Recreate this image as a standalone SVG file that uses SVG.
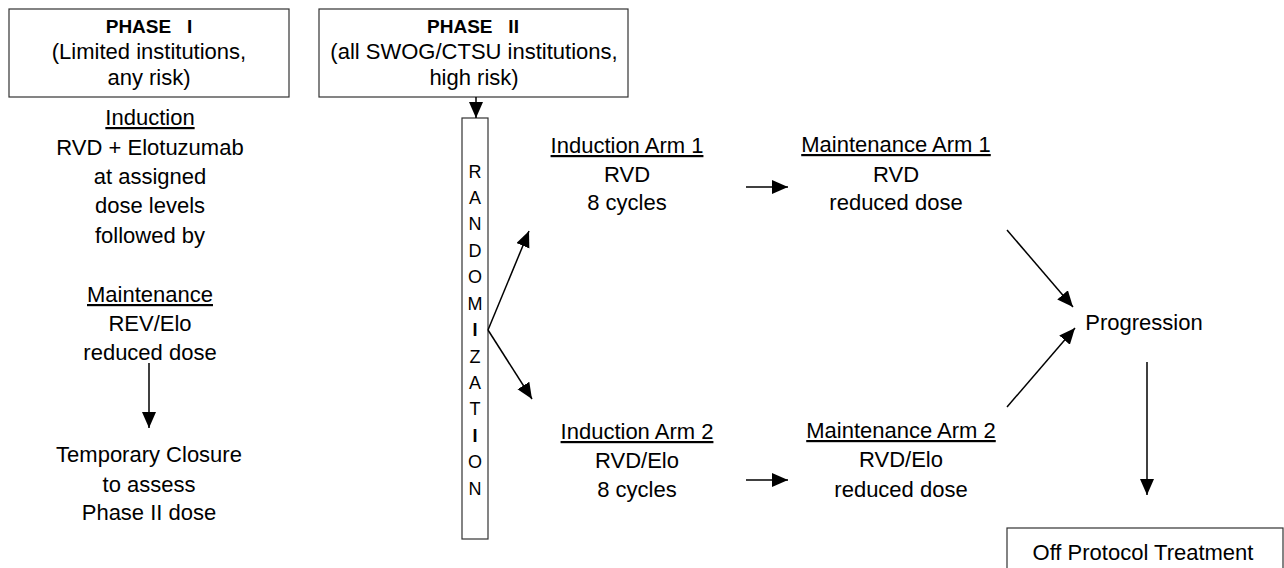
<svg xmlns="http://www.w3.org/2000/svg" width="1284" height="568" viewBox="0 0 1284 568">
  <style>
    .box { fill: #ffffff; stroke: #333333; stroke-width: 1.2; }
    .t { font-family: "Liberation Sans", Arial, sans-serif; font-size: 22px; fill: #000000; text-anchor: middle; }
    .b { font-weight: bold; font-size: 19px; }
    .u { text-decoration: underline; }
    .v { font-family: "Liberation Sans", Arial, sans-serif; font-size: 18px; fill: #000000; text-anchor: middle; }
    .c { stroke: #000000; stroke-width: 1.5; fill: none; marker-end: url(#head); }
  </style>
  <defs>
    <marker id="head" markerUnits="userSpaceOnUse" markerWidth="17" markerHeight="15" refX="16" refY="7" orient="auto" viewBox="0 0 17 15">
      <path d="M0,0 L16,7 L0,14 Z" fill="#000000"/>
    </marker>
  </defs>

  <rect width="1284" height="568" fill="#ffffff"/>

  <!-- Phase I header -->
  <g id="phase1">
    <rect class="box" x="9" y="9" width="280" height="88"/>
    <text class="t b" x="149" y="33" xml:space="preserve">PHASE   I</text>
    <text class="t" x="149" y="59">(Limited institutions,</text>
    <text class="t" x="149" y="85">any risk)</text>
  </g>

  <!-- Phase II header -->
  <g id="phase2">
    <rect class="box" x="319" y="9" width="309" height="88"/>
    <text class="t b" x="473" y="33" xml:space="preserve">PHASE   II</text>
    <text class="t" x="474" y="59">(all SWOG/CTSU institutions,</text>
    <text class="t" x="474" y="85">high risk)</text>
  </g>

  <!-- Phase I induction and maintenance -->
  <g id="phase1-regimen">
    <text class="t u" x="150" y="125">Induction</text>
    <text class="t" x="150" y="155">RVD + Elotuzumab</text>
    <text class="t" x="150" y="184">at assigned</text>
    <text class="t" x="150" y="213">dose levels</text>
    <text class="t" x="150" y="243">followed by</text>
    <text class="t u" x="150" y="302">Maintenance</text>
    <text class="t" x="150" y="331">REV/Elo</text>
    <text class="t" x="150" y="360">reduced dose</text>
  </g>

  <g id="temporary-closure">
    <text class="t" x="149" y="462">Temporary Closure</text>
    <text class="t" x="149" y="492">to assess</text>
    <text class="t" x="149" y="520">Phase II dose</text>
  </g>

  <!-- Vertical randomization bar -->
  <g id="randomization">
    <rect class="box" x="462" y="118" width="26" height="421"/>
    <text class="v" x="475" y="178">R</text>
    <text class="v" x="475" y="204">A</text>
    <text class="v" x="475" y="230">N</text>
    <text class="v" x="475" y="257">D</text>
    <text class="v" x="475" y="283">O</text>
    <text class="v" x="475" y="310">M</text>
    <text class="v" x="475" y="336" font-weight="bold">I</text>
    <text class="v" x="475" y="363">Z</text>
    <text class="v" x="475" y="389">A</text>
    <text class="v" x="475" y="415">T</text>
    <text class="v" x="475" y="442" font-weight="bold">I</text>
    <text class="v" x="475" y="468">O</text>
    <text class="v" x="475" y="495">N</text>
  </g>

  <g id="induction-arm1">
    <text class="t u" x="627" y="153">Induction Arm 1</text>
    <text class="t" x="627" y="182">RVD</text>
    <text class="t" x="627" y="210">8 cycles</text>
  </g>

  <g id="maintenance-arm1">
    <text class="t u" x="896" y="152">Maintenance Arm 1</text>
    <text class="t" x="896" y="182">RVD</text>
    <text class="t" x="896" y="210">reduced dose</text>
  </g>

  <g id="induction-arm2">
    <text class="t u" x="637" y="439">Induction Arm 2</text>
    <text class="t" x="637" y="468">RVD/Elo</text>
    <text class="t" x="637" y="497">8 cycles</text>
  </g>

  <g id="maintenance-arm2">
    <text class="t u" x="901" y="438">Maintenance Arm 2</text>
    <text class="t" x="901" y="467">RVD/Elo</text>
    <text class="t" x="901" y="497">reduced dose</text>
  </g>

  <g id="progression">
    <text class="t" x="1144" y="330">Progression</text>
  </g>

  <g id="off-protocol">
    <rect class="box" x="1007" y="528" width="276" height="60"/>
    <text class="t" x="1143" y="560" font-size="21">Off Protocol Treatment</text>
  </g>

  <!-- Connectors -->
  <g id="connectors">
    <line class="c" x1="476" y1="97" x2="476" y2="118"/>
    <line class="c" x1="149" y1="363" x2="149" y2="428"/>
    <line class="c" x1="488" y1="330" x2="529" y2="231"/>
    <line class="c" x1="488" y1="330" x2="532" y2="399"/>
    <line class="c" x1="746" y1="187" x2="788" y2="187"/>
    <line class="c" x1="746" y1="480" x2="788" y2="480"/>
    <line class="c" x1="1007" y1="230" x2="1073" y2="307"/>
    <line class="c" x1="1007" y1="407" x2="1075" y2="328"/>
    <line class="c" x1="1147" y1="362" x2="1147" y2="495"/>
  </g>
</svg>
